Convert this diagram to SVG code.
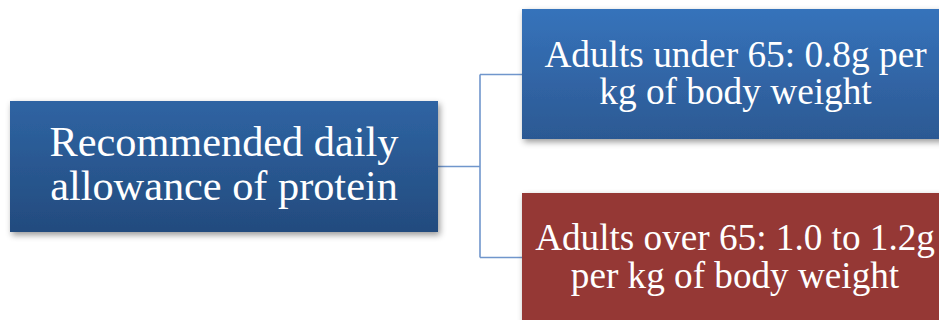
<svg xmlns="http://www.w3.org/2000/svg" width="939" height="320" viewBox="0 0 939 320">
<defs>
<linearGradient id="gLeft" x1="0" y1="0" x2="0" y2="1">
<stop offset="0" stop-color="#2f64a3"/>
<stop offset="1" stop-color="#234b7e"/>
</linearGradient>
<linearGradient id="gTop" x1="0" y1="0" x2="0" y2="1">
<stop offset="0" stop-color="#3673bb"/>
<stop offset="1" stop-color="#2c5993"/>
</linearGradient>
<filter id="sh" x="-10%" y="-10%" width="120%" height="130%">
<feDropShadow dx="2" dy="3" stdDeviation="3" flood-color="#000" flood-opacity="0.4"/>
</filter>
</defs>
<style>
.t{font-family:'Liberation Serif','Times New Roman',serif;fill:#fff;text-anchor:middle}
.c{fill:none;stroke:#7096cc;stroke-width:1.6}
</style>
<rect width="939" height="320" fill="#fff"/>
<g id="connectors">
<path class="c" d="M438,166.5 H480 M480,74.5 V257.5 M480,74.5 H522 M480,257.5 H522"/>
</g>
<g id="node-root">
<rect x="10" y="101" width="428" height="131" fill="url(#gLeft)" filter="url(#sh)"/>
<text class="t" x="224" y="155.5" font-size="42.3">Recommended daily</text>
<text class="t" x="224" y="200" font-size="42.3">allowance of protein</text>
</g>
<g id="node-under65">
<rect x="522" y="9" width="428" height="130" fill="url(#gTop)" filter="url(#sh)"/>
<text class="t" x="735.5" y="67" font-size="37.3">Adults under 65: 0.8g per</text>
<text class="t" x="735.5" y="104" font-size="37.3">kg of body weight</text>
</g>
<g id="node-over65">
<rect x="522" y="193" width="428" height="130" fill="#953735" filter="url(#sh)"/>
<text class="t" x="735" y="250" font-size="37.2">Adults over 65: 1.0 to 1.2g</text>
<text class="t" x="735" y="288" font-size="37.2">per kg of body weight</text>
</g>
</svg>
